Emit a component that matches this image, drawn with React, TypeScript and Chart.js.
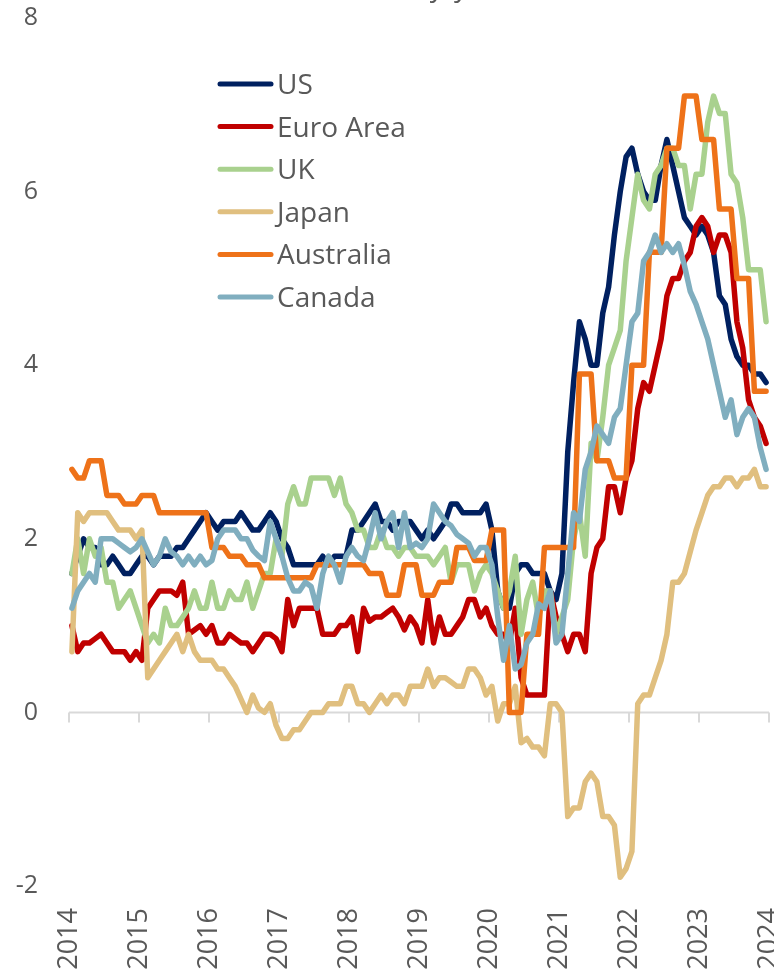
import { useEffect, useRef } from 'react';
import { Chart, registerables } from 'chart.js';

Chart.register(...registerables);

// Monthly observations, Mar 2014 .. Feb 2024 (index 0 = Mar 2014)
const yearLabels = ['2014', '2015', '2016', '2017', '2018', '2019', '2020', '2021', '2022', '2023', '2024'];
const yTicks = [-2, 0, 2, 4, 6, 8];

const us = [
  1.6, 1.8, 2.0, 1.9, 1.9, 1.7, 1.7, 1.8, 1.7, 1.6,
  1.6, 1.7, 1.8, 1.8, 1.7, 1.8, 1.8, 1.8, 1.9, 1.9, 2.0, 2.1,
  2.2, 2.3, 2.2, 2.1, 2.2, 2.2, 2.2, 2.3, 2.2, 2.1, 2.1, 2.2,
  2.3, 2.2, 2.0, 1.9, 1.7, 1.7, 1.7, 1.7, 1.7, 1.8, 1.7, 1.8,
  1.8, 1.8, 2.1, 2.1, 2.2, 2.3, 2.4, 2.2, 2.2, 2.1, 2.2, 2.2,
  2.2, 2.1, 2.0, 2.1, 2.0, 2.1, 2.2, 2.4, 2.4, 2.3, 2.3, 2.3,
  2.3, 2.4, 2.1, 1.4, 1.2, 1.2, 1.6, 1.7, 1.7, 1.6, 1.6, 1.6,
  1.4, 1.3, 1.6, 3.0, 3.8, 4.5, 4.3, 4.0, 4.0, 4.6, 4.9, 5.5,
  6.0, 6.4, 6.5, 6.2, 6.0, 5.9, 5.9, 6.3, 6.6, 6.3, 6.0, 5.7,
  5.6, 5.5, 5.6, 5.5, 5.3, 4.8, 4.7, 4.3, 4.1, 4.0, 4.0, 3.9,
  3.9, 3.8,
];

const euroArea = [
  1.0, 0.7, 0.8, 0.8, 0.85, 0.9, 0.8, 0.7, 0.7, 0.7,
  0.6, 0.7, 0.6, 1.2, 1.3, 1.4, 1.4, 1.4, 1.35, 1.5, 0.9, 0.95,
  1.0, 0.9, 1.0, 0.8, 0.8, 0.9, 0.85, 0.8, 0.8, 0.7, 0.8, 0.9,
  0.9, 0.85, 0.7, 1.3, 1.0, 1.2, 1.2, 1.2, 1.2, 0.9, 0.9, 0.9,
  1.0, 1.0, 1.1, 0.7, 1.2, 1.05, 1.1, 1.1, 1.15, 1.2, 1.1, 0.95,
  1.1, 1.0, 0.8, 1.3, 0.8, 1.1, 0.9, 0.9, 1.0, 1.1, 1.3, 1.3,
  1.1, 1.2, 1.0, 0.9, 0.9, 0.8, 1.2, 0.4, 0.2, 0.2, 0.2, 0.2,
  1.4, 1.1, 0.9, 0.7, 0.9, 0.9, 0.7, 1.6, 1.9, 2.0, 2.6, 2.6,
  2.3, 2.7, 2.9, 3.5, 3.8, 3.7, 4.0, 4.3, 4.8, 5.0, 5.0, 5.2,
  5.3, 5.6, 5.7, 5.6, 5.3, 5.5, 5.5, 5.3, 4.5, 4.2, 3.6, 3.4,
  3.3, 3.1,
];

const uk = [
  1.6, 2.0, 1.6, 2.0, 1.8, 1.9, 1.5, 1.5, 1.2, 1.3,
  1.4, 1.2, 1.0, 0.8, 0.9, 0.8, 1.2, 1.0, 1.0, 1.1, 1.2, 1.4,
  1.2, 1.2, 1.5, 1.2, 1.2, 1.4, 1.3, 1.3, 1.5, 1.2, 1.4, 1.6,
  1.6, 2.0, 1.8, 2.4, 2.6, 2.4, 2.4, 2.7, 2.7, 2.7, 2.7, 2.5,
  2.7, 2.4, 2.3, 2.1, 2.1, 1.9, 1.9, 2.1, 1.9, 1.9, 1.8, 1.9,
  1.9, 1.8, 1.8, 1.8, 1.7, 1.8, 1.9, 1.5, 1.7, 1.7, 1.7, 1.4,
  1.6, 1.7, 1.6, 1.4, 1.2, 1.4, 1.8, 0.9, 1.3, 1.5, 1.1, 1.4,
  1.4, 0.9, 1.1, 1.3, 2.0, 2.3, 1.8, 3.1, 2.9, 3.4, 4.0, 4.2,
  4.4, 5.2, 5.7, 6.2, 5.9, 5.8, 6.2, 6.3, 6.5, 6.5, 6.3, 6.3,
  5.8, 6.2, 6.2, 6.8, 7.1, 6.9, 6.9, 6.2, 6.1, 5.7, 5.1, 5.1,
  5.1, 4.5,
];

const japan = [
  0.7, 2.3, 2.2, 2.3, 2.3, 2.3, 2.3, 2.2, 2.1, 2.1,
  2.1, 2.0, 2.1, 0.4, 0.5, 0.6, 0.7, 0.8, 0.9, 0.7, 0.9, 0.7,
  0.6, 0.6, 0.6, 0.5, 0.5, 0.4, 0.3, 0.15, 0.0, 0.2, 0.05, 0.0,
  0.1, -0.15, -0.3, -0.3, -0.2, -0.2, -0.1, 0.0, 0.0, 0.0, 0.1, 0.1,
  0.1, 0.3, 0.3, 0.1, 0.1, 0.0, 0.1, 0.2, 0.1, 0.2, 0.2, 0.1,
  0.3, 0.3, 0.3, 0.5, 0.3, 0.4, 0.4, 0.35, 0.3, 0.3, 0.5, 0.5,
  0.4, 0.2, 0.3, -0.1, 0.1, 0.1, 0.3, -0.35, -0.3, -0.4, -0.4, -0.5,
  0.1, 0.1, 0.0, -1.2, -1.1, -1.1, -0.8, -0.7, -0.8, -1.2, -1.2, -1.3,
  -1.9, -1.8, -1.6, 0.1, 0.2, 0.2, 0.4, 0.6, 0.9, 1.5, 1.5, 1.6,
  1.85, 2.1, 2.3, 2.5, 2.6, 2.6, 2.7, 2.7, 2.6, 2.7, 2.7, 2.8,
  2.6, 2.6,
];

const australia = [
  2.8, 2.7, 2.7, 2.9, 2.9, 2.9, 2.5, 2.5, 2.5, 2.4,
  2.4, 2.4, 2.5, 2.5, 2.5, 2.3, 2.3, 2.3, 2.3, 2.3, 2.3, 2.3,
  2.3, 2.3, 1.9, 1.9, 1.9, 1.8, 1.8, 1.8, 1.7, 1.7, 1.7, 1.55,
  1.55, 1.55, 1.55, 1.55, 1.55, 1.55, 1.55, 1.55, 1.7, 1.7, 1.7, 1.7,
  1.7, 1.7, 1.7, 1.7, 1.7, 1.6, 1.6, 1.6, 1.35, 1.35, 1.35, 1.7,
  1.7, 1.7, 1.35, 1.35, 1.35, 1.5, 1.5, 1.5, 1.9, 1.9, 1.9, 1.75,
  1.75, 1.75, 2.1, 2.1, 2.1, 0.0, 0.0, 0.0, 0.9, 0.9, 0.9, 1.9,
  1.9, 1.9, 1.9, 1.9, 1.9, 3.9, 3.9, 3.9, 2.9, 2.9, 2.9, 2.7,
  2.7, 2.7, 4.0, 4.0, 4.0, 5.3, 5.3, 5.3, 6.5, 6.5, 6.5, 7.1,
  7.1, 7.1, 6.6, 6.6, 6.6, 5.8, 5.8, 5.8, 5.0, 5.0, 5.0, 3.7,
  3.7, 3.7,
];

const canada = [
  1.2, 1.4, 1.5, 1.6, 1.5, 2.0, 2.0, 2.0, 1.95, 1.9,
  1.85, 1.9, 2.0, 1.85, 1.7, 1.8, 2.0, 1.85, 1.8, 1.7, 1.8, 1.7,
  1.8, 1.7, 1.75, 2.0, 2.1, 2.1, 2.1, 2.0, 2.0, 1.87, 1.8, 1.75,
  2.2, 2.0, 1.8, 1.55, 1.4, 1.4, 1.5, 1.45, 1.2, 1.6, 1.8, 1.7,
  1.5, 1.8, 1.9, 1.8, 1.75, 2.0, 2.3, 2.0, 2.2, 2.3, 1.9, 2.3,
  1.9, 1.95, 1.9, 2.0, 2.4, 2.3, 2.2, 2.15, 2.05, 2.0, 1.95, 1.8,
  1.9, 1.9, 1.7, 1.1, 0.6, 1.0, 0.5, 0.55, 0.8, 0.9, 1.25, 1.2,
  1.4, 0.8, 0.9, 1.6, 2.3, 2.2, 2.8, 3.0, 3.3, 3.2, 3.1, 3.4,
  3.5, 4.0, 4.5, 4.6, 5.2, 5.3, 5.5, 5.3, 5.4, 5.3, 5.4, 5.15,
  4.85, 4.7, 4.5, 4.3, 4.0, 3.7, 3.4, 3.6, 3.2, 3.4, 3.5, 3.4,
  3.05, 2.8,
];

const seriesNames = ['US', 'Euro Area', 'UK', 'Japan', 'Australia', 'Canada'];
const seriesValues = [us, euroArea, uk, japan, australia, canada];
const seriesColors = ['#002060', '#C00000', '#A9D18E', '#E0BF7F', '#EE7219', '#80AEBF'];
const titleText = '(%, y/y)';

const FONT = "'Open Sans', 'Liberation Sans', sans-serif";
const TEXT_COLOR = '#595959';

const zeroAxisPlugin = {
  id: 'zeroAxis',
  beforeDatasetsDraw(chart: any) {
    const { ctx, chartArea, scales } = chart;
    const xs = scales.x;
    const y0 = scales.y.getPixelForValue(0);
    ctx.save();
    ctx.strokeStyle = '#D9D9D9';
    ctx.lineWidth = 2;
    ctx.beginPath();
    ctx.moveTo(chartArea.left, y0);
    ctx.lineTo(chartArea.right, y0);
    xs.ticks.forEach((t: any) => {
      const px = xs.getPixelForValue(t.value);
      ctx.moveTo(px, y0);
      ctx.lineTo(px, y0 + 10);
    });
    ctx.stroke();
    ctx.restore();
  },
};

const legendPlugin = {
  id: 'insideLegend',
  afterDraw(chart: any) {
    const { ctx } = chart;
    ctx.save();
    ctx.font = `28px ${FONT}`;
    ctx.textAlign = 'left';
    ctx.textBaseline = 'alphabetic';
    seriesNames.forEach((name, k) => {
      const y = 84 + k * 42.6;
      ctx.strokeStyle = seriesColors[k];
      ctx.lineWidth = 5;
      ctx.lineCap = 'round';
      ctx.beginPath();
      ctx.moveTo(220, y);
      ctx.lineTo(271, y);
      ctx.stroke();
      ctx.fillStyle = TEXT_COLOR;
      ctx.fillText(name, 277, y + 10);
    });
    // title, mostly cut off above the frame
    ctx.textAlign = 'center';
    ctx.fillText(titleText, 430, -4);
    ctx.restore();
  },
};

export default function App() {
  const ref = useRef<HTMLCanvasElement>(null);

  useEffect(() => {
    document.body.style.margin = '0';
    Chart.defaults.font.family = FONT;
    const canvas = ref.current;
    if (!canvas) return;

    const datasets = seriesNames.map((name, k) => ({
      label: name,
      data: seriesValues[k].map((v, i) => ({ x: i + 0.5, y: v })),
      borderColor: seriesColors[k],
      backgroundColor: seriesColors[k],
      borderWidth: 5.5,
      pointRadius: 0,
      tension: 0,
      borderJoinStyle: 'round' as const,
      borderCapStyle: 'round' as const,
      fill: false,
      order: seriesNames.length - k,
    }));

    const chart = new Chart(canvas, {
      type: 'line',
      data: { datasets },
      options: {
        responsive: false,
        animation: false,
        devicePixelRatio: 1,
        layout: { padding: { top: 18, right: 5, left: 0, bottom: 0 } },
        plugins: {
          legend: { display: false },
          tooltip: { enabled: false },
          title: { display: false },
        },
        scales: {
          x: {
            type: 'linear',
            min: 0,
            max: 120,
            grid: { display: false, drawTicks: false },
            border: { display: false },
            ticks: {
              stepSize: 12,
              autoSkip: false,
              maxRotation: 90,
              minRotation: 90,
              padding: 22,
              color: TEXT_COLOR,
              font: { size: 27, family: FONT },
              callback: (v: any) => yearLabels[Math.round(Number(v) / 12)] ?? '',
            },
            afterFit: (s: any) => {
              s.height = 85;
              s.paddingLeft = 0;
              s.paddingRight = 0;
            },
          },
          y: {
            type: 'linear',
            min: yTicks[0],
            max: yTicks[yTicks.length - 1],
            grid: { display: false, drawTicks: false },
            border: { display: false },
            ticks: {
              stepSize: 2,
              padding: 31,
              color: TEXT_COLOR,
              font: { size: 25, family: FONT },
            },
            afterFit: (s: any) => {
              s.width = 69;
              s.paddingTop = 0;
              s.paddingBottom = 0;
            },
          },
        },
      },
      plugins: [zeroAxisPlugin, legendPlugin],
    });

    return () => chart.destroy();
  }, []);

  return (
    <div style={{ width: 774, height: 971, position: 'relative', background: '#fff' }}>
      <canvas ref={ref} width={774} height={971} style={{ display: 'block' }} />
    </div>
  );
}
